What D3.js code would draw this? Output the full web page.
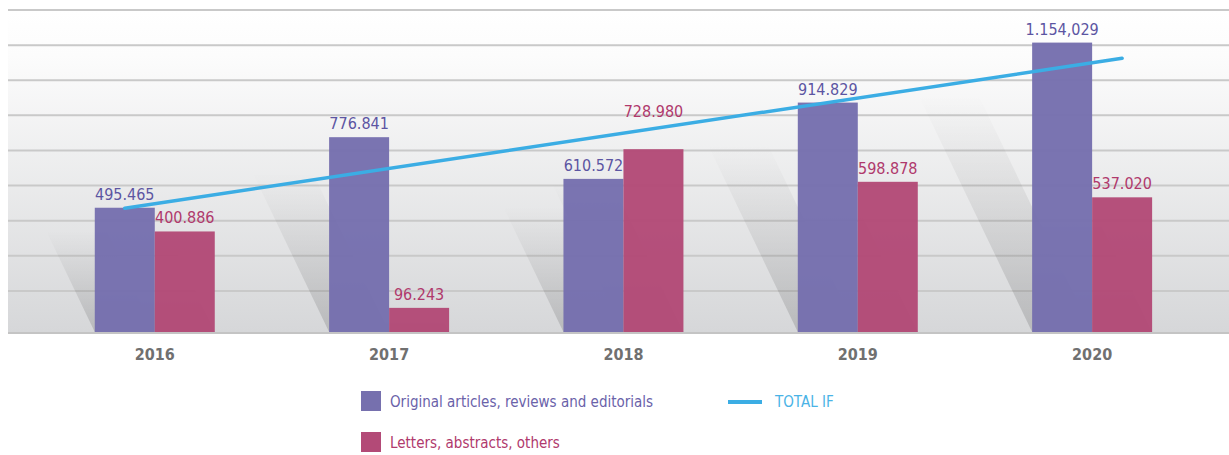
<!DOCTYPE html>
<html>
<head>
<meta charset="utf-8">
<script src="https://cdn.jsdelivr.net/npm/d3@7"></script>
<style>
  body { margin: 0; background: #fff; }
  svg { display: block; }
  text { font-family: "Liberation Sans Narrow", "DejaVu Sans Condensed", "Noto Sans", sans-serif; }
</style>
</head>
<body>
<div id="chart"></div>
<script>
const years = ["2016", "2017", "2018", "2019", "2020"];
const original = [495.465, 776.841, 610.572, 914.829, 1154.029];
const letters = [400.886, 96.243, 728.980, 598.878, 537.020];
const originalLabels = ["495.465", "776.841", "610.572", "914.829", "1.154,029"];
const letterLabels = ["400.886", "96.243", "728.980", "598.878", "537.020"];
const totalIF = [896.351, 873.084, 1339.552, 1513.707, 1691.049];
const gridValues = [140, 280, 420, 560, 700, 840, 980, 1120, 1260];
const seriesNames = ["Original articles, reviews and editorials", "Letters, abstracts, others"];
const lineName = "TOTAL IF";

const W = 1229, H = 455;
const plot = { left: 8, right: 1229, top: 11, base: 332 };
const colors = { orig: "#7670ae", letters: "#b34a77", line: "#3badE4", origText: "#5c55a2", lettersText: "#b0396c", year: "#707070" };

const svg = d3.select("#chart").append("svg")
  .attr("width", W).attr("height", H);
const defs = svg.append("defs");

const bg = defs.append("linearGradient").attr("id", "bg")
  .attr("x1", 0).attr("y1", 0).attr("x2", 0).attr("y2", 1);
bg.append("stop").attr("offset", "0%").attr("stop-color", "#ffffff");
bg.append("stop").attr("offset", "14%").attr("stop-color", "#fcfcfc");
bg.append("stop").attr("offset", "100%").attr("stop-color", "#d6d7d9");

const sh = defs.append("linearGradient").attr("id", "shadow")
  .attr("x1", 0).attr("y1", 1).attr("x2", 0).attr("y2", 0);
sh.append("stop").attr("offset", "0%").attr("stop-color", "#000").attr("stop-opacity", 0.14);
sh.append("stop").attr("offset", "100%").attr("stop-color", "#000").attr("stop-opacity", 0);

// scales
const x = d3.scaleBand()
  .domain(years)
  .range([37.6, 1209.3])
  .paddingInner(0.488)
  .paddingOuter(0.244);
const xInner = d3.scaleBand()
  .domain(["orig", "letters"])
  .range([0, x.bandwidth()]);
const y = d3.scaleLinear()
  .domain([0, 1280])
  .range([plot.base, plot.top]);
const wallDepth = 6;

// background wall
svg.append("rect")
  .attr("x", plot.left).attr("y", plot.top)
  .attr("width", plot.right - plot.left).attr("height", plot.base - plot.top)
  .attr("fill", "url(#bg)");

// gridlines on the back wall
svg.append("g").selectAll("line")
  .data(gridValues)
  .join("line")
    .attr("x1", plot.left).attr("x2", plot.right)
    .attr("y1", d => y(d) - wallDepth).attr("y2", d => y(d) - wallDepth)
    .attr("stroke", "#c9c9c9").attr("stroke-width", 2);
svg.append("line")
  .attr("x1", plot.left).attr("x2", plot.right)
  .attr("y1", plot.base + 1).attr("y2", plot.base + 1)
  .attr("stroke", "#c4c4c4").attr("stroke-width", 2);

const bars = [];
years.forEach((yr, i) => {
  bars.push({ year: yr, key: "orig", value: original[i], label: originalLabels[i] });
  bars.push({ year: yr, key: "letters", value: letters[i], label: letterLabels[i] });
});
const bx = d => x(d.year) + xInner(d.key);
const bw = xInner.bandwidth();

// slanted shadows behind bars
const slope = 0.48;
svg.append("g").selectAll("path")
  .data(bars)
  .join("path")
    .attr("d", d => {
      const a = bx(d), h = (plot.base - y(d.value)) * 0.82;
      return `M${a},${plot.base}L${a + bw},${plot.base}L${a + bw - slope * h},${plot.base - h}L${a - slope * h},${plot.base - h}Z`;
    })
    .attr("fill", "url(#shadow)");

// bars
svg.append("g").selectAll("rect")
  .data(bars)
  .join("rect")
    .attr("x", bx)
    .attr("y", d => y(d.value))
    .attr("width", bw)
    .attr("height", d => plot.base - y(d.value))
    .attr("fill", d => d.key === "orig" ? colors.orig : colors.letters)
    .attr("fill-opacity", 0.97);

// trend line of total IF (least squares)
const n = totalIF.length;
const mx = d3.mean(d3.range(n)), my = d3.mean(totalIF);
const b = d3.sum(totalIF, (v, i) => (i - mx) * (v - my)) / d3.sum(d3.range(n), i => (i - mx) ** 2);
const a0 = my - b * mx;
const yTrend = d3.scaleLinear().domain([80, 1990]).range([plot.base, plot.top]);
const xStart = x(years[0]) + xInner("orig") + bw / 2;
const xEnd = x(years[n - 1]) + xInner("letters") + bw / 2;
const trendPts = [[xStart, yTrend(a0)], [xEnd, yTrend(a0 + b * (n - 1))]];
const lineAt = px => trendPts[0][1] + (px - trendPts[0][0]) * (trendPts[1][1] - trendPts[0][1]) / (trendPts[1][0] - trendPts[0][0]);

svg.append("path")
  .datum(trendPts)
  .attr("d", d3.line())
  .attr("fill", "none")
  .attr("stroke", colors.line)
  .attr("stroke-width", 3.5)
  .attr("stroke-linecap", "round");

// value labels
svg.append("g").selectAll("text")
  .data(bars)
  .join("text")
    .attr("x", d => bx(d) + bw / 2)
    .attr("y", d => {
      const cx = bx(d) + bw / 2, half = 32;
      let base = y(d.value) - 8;
      const l1 = lineAt(cx - half), l2 = lineAt(cx + half);
      const top = Math.min(l1, l2), bot = Math.max(l1, l2);
      if (bot > base - 12 && top < base + 2) base = top - 7;
      return base;
    })
    .attr("text-anchor", "middle")
    .attr("font-size", 16)
    .attr("fill", d => d.key === "orig" ? colors.origText : colors.lettersText)
    .text(d => d.label);

// year labels
svg.append("g").selectAll("text")
  .data(years)
  .join("text")
    .attr("x", d => x(d) + x.bandwidth() / 2)
    .attr("y", 360)
    .attr("text-anchor", "middle")
    .attr("font-size", 16)
    .attr("font-weight", "bold")
    .attr("fill", colors.year)
    .text(d => d);

// legend
const legend = svg.append("g");
const legendItems = [
  { name: seriesNames[0], color: colors.orig, text: "#6a62a9", y: 391 },
  { name: seriesNames[1], color: colors.letters, text: colors.lettersText, y: 432 }
];
legend.selectAll("rect")
  .data(legendItems)
  .join("rect")
    .attr("x", 361).attr("y", d => d.y)
    .attr("width", 20).attr("height", 20)
    .attr("fill", d => d.color);
legend.selectAll("text.item")
  .data(legendItems)
  .join("text")
    .attr("class", "item")
    .attr("x", 390).attr("y", d => d.y + 16)
    .attr("font-size", 15)
    .attr("fill", d => d.text)
    .text(d => d.name);
legend.append("line")
  .attr("x1", 728).attr("x2", 762)
  .attr("y1", 402).attr("y2", 402)
  .attr("stroke", colors.line).attr("stroke-width", 4);
legend.append("text")
  .attr("x", 775).attr("y", 407)
  .attr("font-size", 15)
  .attr("fill", "#4ab3e6")
  .text(lineName);
</script>
</body>
</html>
